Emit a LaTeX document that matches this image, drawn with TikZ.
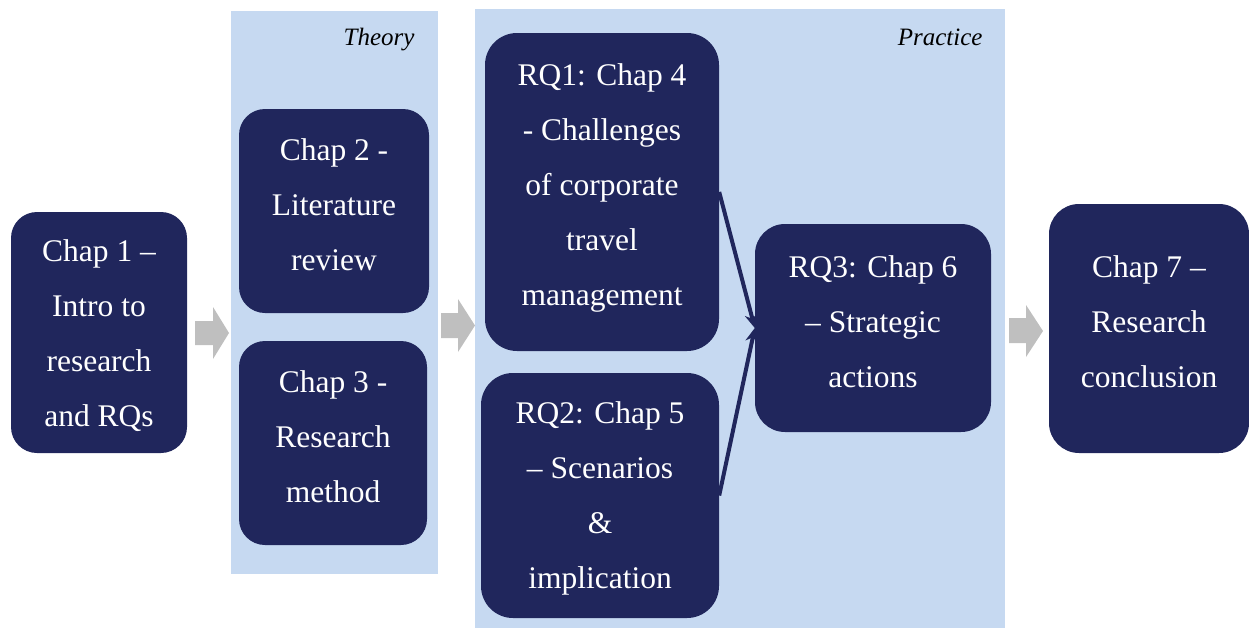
\documentclass[tikz,border=0pt]{standalone}
\usepackage{fontspec}
\setmainfont{Liberation Serif}
\usetikzlibrary{arrows.meta}
\definecolor{navy}{RGB}{32,38,92}
\definecolor{lightbg}{RGB}{198,217,241}
\definecolor{arrowgray}{RGB}{191,191,191}
\tikzset{
  chapbox/.style={fill=navy, draw=none, rounded corners=26pt, inner sep=0pt},
  chaptext/.style={text=white, align=center, font=\fontsize{31.5}{55}\selectfont, inner sep=0pt},
  panel/.style={fill=lightbg, draw=none},
  panellabel/.style={font=\fontsize{25}{30}\selectfont\itshape, anchor=east},
  blockarrow/.style={fill=arrowgray, draw=none},
  link/.style={draw=navy, line width=4pt, -{Stealth[length=14pt,width=13pt]}}
}
\begin{document}
\begin{tikzpicture}[x=1pt,y=-1pt]
\useasboundingbox (0,0) rectangle (1249,629);
% panels
\fill[panel] (231,11) rectangle (438,574);
\fill[panel] (475,9) rectangle (1005,628);
\node[panellabel] (theory) at (418,40) {Theory};
\node[panellabel] (practice) at (986,37) {Practice};
% boxes
\node[chapbox, minimum width=176pt, minimum height=241pt] (c1) at (99,332.5) {};
\node[chapbox, minimum width=190pt, minimum height=204pt] (c2) at (334,211) {};
\node[chapbox, minimum width=188pt, minimum height=204pt] (c3) at (333,443) {};
\node[chapbox, rounded corners=32pt, minimum width=234pt, minimum height=318pt] (rq1) at (602,192) {};
\node[chapbox, rounded corners=32pt, minimum width=238pt, minimum height=245pt] (rq2) at (600,495.5) {};
\node[chapbox, rounded corners=30pt, minimum width=236pt, minimum height=208pt] (rq3) at (873,328) {};
\node[chapbox, rounded corners=30pt, minimum width=200pt, minimum height=249pt] (c7) at (1149,328.5) {};
% texts
\node[chaptext] (c1t) at ([yshift=-3pt]c1.center) {Chap 1 –\\Intro to\\research\\and RQs};
\node[chaptext] (c2t) at ([yshift=6pt]c2.center) {Chap 2 -\\Literature\\review};
\node[chaptext] (c3t) at ([yshift=6pt]c3.center) {Chap 3 -\\Research\\method};
\node[chaptext] (rq1t) at ([yshift=4pt]rq1.center) {RQ1: Chap 4\\- Challenges\\of corporate\\travel\\management};
\node[chaptext] (rq2t) at ([yshift=-3pt]rq2.center) {RQ2: Chap 5\\– Scenarios\\\&\\implication};
\node[chaptext] (rq3t) at ([yshift=6pt]rq3.center) {RQ3: Chap 6\\– Strategic\\actions};
\node[chaptext] (c7t) at ([yshift=7pt]c7.center) {Chap 7 –\\Research\\conclusion};
% block arrows
\fill[blockarrow] (195,321) -- (213,321) -- (213,307) -- (229,333) -- (213,359) -- (213,345) -- (195,345) -- cycle;
\fill[blockarrow] (441,313) -- (458,313) -- (458,299) -- (475,325.5) -- (458,352) -- (458,338) -- (441,338) -- cycle;
\fill[blockarrow] (1009,318) -- (1026,318) -- (1026,305) -- (1043,331) -- (1026,357) -- (1026,343) -- (1009,343) -- cycle;
% connectors
\draw[link] (rq1.east) -- (rq3.west);
\draw[link] (rq2.east) -- (rq3.west);
\end{tikzpicture}
\end{document}
